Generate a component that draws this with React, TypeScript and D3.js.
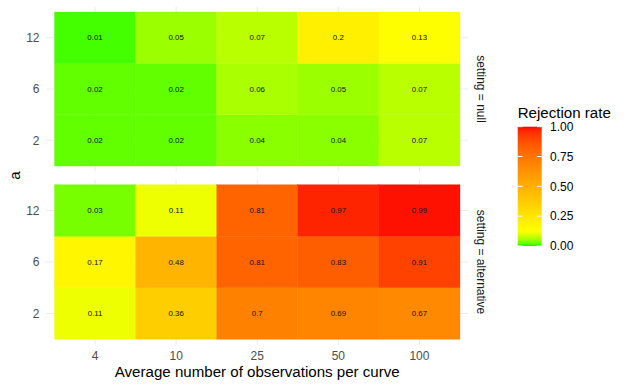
import React from "react";
import * as d3 from "d3";

// observations per curve (x) and a (y)
const obsLevels = ["4", "10", "25", "50", "100"];
const aLevels = ["2", "6", "12"];
const settings = ["null", "alternative"];

// rejection rates, rows by a (2, 6, 12), columns by obs
const nullRates = [
  [0.02, 0.02, 0.04, 0.04, 0.07],
  [0.02, 0.02, 0.06, 0.05, 0.07],
  [0.01, 0.05, 0.07, 0.2, 0.13],
];
const altRates = [
  [0.11, 0.36, 0.7, 0.69, 0.67],
  [0.17, 0.48, 0.81, 0.83, 0.91],
  [0.03, 0.11, 0.81, 0.97, 0.99],
];
const legendBreaks = [0, 0.25, 0.5, 0.75, 1];

const W = 627;
const H = 389;
const font = "'Liberation Sans', Arial, Helvetica, sans-serif";

export default function App() {
  const x = d3.scaleBand().domain(obsLevels).range([54.5, 460]);
  const bw = x.bandwidth();
  const xPad = bw * 0.1;

  // one y scale per facet panel
  const panels = [
    { setting: settings[0], rates: nullRates, range: [166, 12] },
    { setting: settings[1], rates: altRates, range: [339.3, 184.7] },
  ].map((p) => ({
    ...p,
    y: d3.scaleBand().domain(aLevels).range(p.range as [number, number]),
  }));

  const fill = d3
    .scaleLinear<string>()
    .domain([0, 0.125, 1])
    .range(["#00ff00", "#ffff00", "#ff0000"])
    .interpolate(d3.interpolateLab)
    .clamp(true);

  // legend
  const legX = 517.7;
  const legW = 24;
  const legY = d3.scaleLinear().domain([0, 1]).range([246, 126.7]);
  const gradStops = d3.range(0, 1.0001, 0.02);

  return (
    <svg
      width={W}
      height={H}
      style={{ position: "absolute", left: 0, top: 0, background: "#fff" }}
      fontFamily={font}
    >
      <defs>
        <linearGradient id="bar" x1="0" y1="1" x2="0" y2="0">
          {gradStops.map((t) => (
            <stop key={t} offset={t} stopColor={fill(t)} />
          ))}
        </linearGradient>
      </defs>

      {panels.map((p) => {
        const y = p.y;
        const bh = y.bandwidth();
        const yPad = bh * 0.1;
        const top = p.range[1] - yPad;
        const bottom = p.range[0] + yPad;
        const left = x.range()[0] - xPad;
        const right = x.range()[1] + xPad;
        return (
          <g key={p.setting}>
            {/* grid */}
            {aLevels.map((a) => (
              <line
                key={"h" + a}
                x1={left}
                x2={right}
                y1={y(a)! + bh / 2}
                y2={y(a)! + bh / 2}
                stroke="#ebebeb"
                strokeWidth={1.07}
              />
            ))}
            {obsLevels.map((o) => (
              <line
                key={"v" + o}
                x1={x(o)! + bw / 2}
                x2={x(o)! + bw / 2}
                y1={top}
                y2={bottom}
                stroke="#ebebeb"
                strokeWidth={1.07}
              />
            ))}
            {/* tiles */}
            {aLevels.map((a, i) =>
              obsLevels.map((o, j) => (
                <rect
                  key={a + "-" + o}
                  x={x(o)}
                  y={y(a)}
                  width={bw}
                  height={bh}
                  fill={fill(p.rates[i][j])}
                  stroke={fill(p.rates[i][j])}
                  strokeWidth={0.3}
                />
              ))
            )}
            {aLevels.map((a, i) =>
              obsLevels.map((o, j) => (
                <text
                  key={"t" + a + "-" + o}
                  x={x(o)! + bw / 2}
                  y={y(a)! + bh / 2}
                  dy="0.35em"
                  textAnchor="middle"
                  fontSize={7.9}
                  fill="#111"
                >
                  {p.rates[i][j]}
                </text>
              ))
            )}
            {/* y tick labels */}
            {aLevels.map((a) => (
              <text
                key={"yl" + a}
                x={39.5}
                y={y(a)! + bh / 2}
                dy="0.35em"
                textAnchor="end"
                fontSize={12}
                fill="#4d4d4d"
              >
                {a}
              </text>
            ))}
            {/* strip */}
            <text
              transform={`translate(481,${(top + bottom) / 2}) rotate(90)`}
              textAnchor="middle"
              dy="0.35em"
              fontSize={12}
              fill="#1a1a1a"
            >
              {"setting = " + p.setting}
            </text>
          </g>
        );
      })}

      {/* x tick labels */}
      {obsLevels.map((o) => (
        <text
          key={"xl" + o}
          x={x(o)! + bw / 2}
          y={356}
          dy="0.35em"
          textAnchor="middle"
          fontSize={12}
          fill="#4d4d4d"
        >
          {o}
        </text>
      ))}
      <text
        x={(x.range()[0] + x.range()[1]) / 2}
        y={372}
        dy="0.35em"
        textAnchor="middle"
        fontSize={15.1}
        fill="#000"
      >
        Average number of observations per curve
      </text>
      <text
        transform="translate(14.5,175.6) rotate(-90)"
        textAnchor="middle"
        dy="0.35em"
        fontSize={15.1}
        fill="#000"
      >
        a
      </text>

      {/* legend */}
      <text x={legX} y={112.7} dy="0.35em" fontSize={15.1} fill="#000">
        Rejection rate
      </text>
      <rect
        x={legX}
        y={legY(1)}
        width={legW}
        height={legY(0) - legY(1)}
        fill="url(#bar)"
      />
      {legendBreaks.map((b) => (
        <g key={"lb" + b}>
          <line
            x1={legX}
            x2={legX + legW / 5}
            y1={legY(b)}
            y2={legY(b)}
            stroke="#fff"
            strokeWidth={1}
          />
          <line
            x1={legX + legW - legW / 5}
            x2={legX + legW}
            y1={legY(b)}
            y2={legY(b)}
            stroke="#fff"
            strokeWidth={1}
          />
          <text
            x={550}
            y={legY(b)}
            dy="0.35em"
            fontSize={12}
            fill="#000"
          >
            {d3.format(".2f")(b)}
          </text>
        </g>
      ))}
    </svg>
  );
}
